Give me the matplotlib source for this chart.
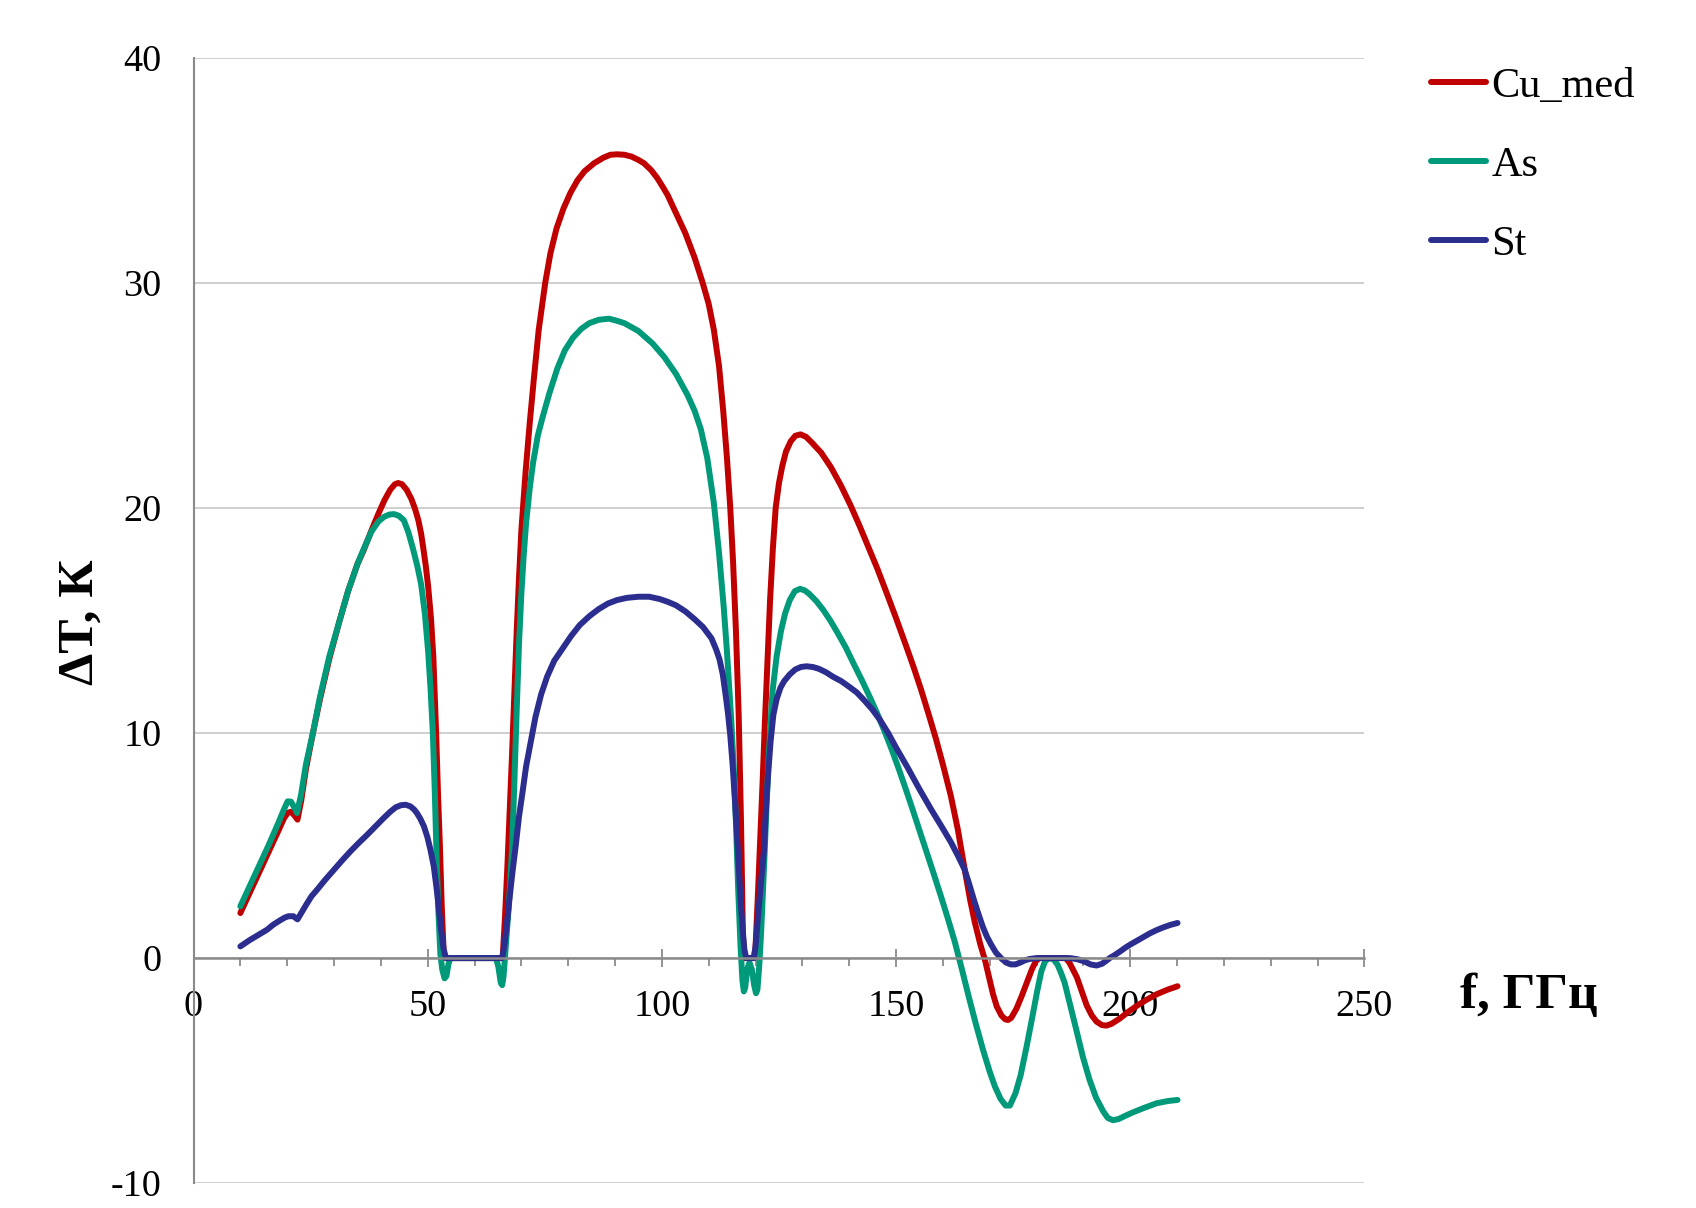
import matplotlib
matplotlib.use("Agg")
import matplotlib.pyplot as plt
from matplotlib.ticker import MultipleLocator

plt.rcParams['font.family'] = ['Liberation Serif', 'DejaVu Serif']
plt.rcParams['axes.unicode_minus'] = False

# Cu_med: (f, dT) pairs
cu_pts = [
    (10, 2.0), (12, 2.9), (14, 3.8), (16, 4.7), (18, 5.6), (19.3, 6.2), (20.1, 6.45),
    (20.8, 6.5), (21.5, 6.35), (22.2, 6.15), (23, 7.0), (24, 8.4), (25.5, 10.0),
    (27, 11.5), (29, 13.3), (31.2, 15.0), (33, 16.3), (35, 17.5), (36.3, 18.1),
    (38, 19.0), (39.5, 19.75), (40.8, 20.35), (42, 20.8), (43, 21.05), (43.7, 21.1),
    (44.5, 21.05), (45.5, 20.8), (46.5, 20.4), (47.3, 19.95), (48, 19.45), (48.6, 18.85),
    (49.1, 18.15), (49.6, 17.4), (50.1, 16.5), (50.7, 15.1), (51.2, 13.4), (51.8, 10.0),
    (52.2, 7.3), (52.6, 5.0), (53.0, 2.3), (53.4, 0.3), (53.8, 0.0), (60, 0.0),
    (66.0, 0.0), (66.5, 1.8), (67.0, 4.0), (67.5, 6.5), (68.0, 9.0), (68.5, 11.8),
    (69.0, 14.5), (69.5, 16.9), (70.0, 19.0), (70.9, 21.6), (71.8, 23.8), (72.7, 25.8),
    (73.7, 27.9), (75.1, 30.0), (76.2, 31.3), (77.5, 32.4), (79, 33.3), (80.5, 34.0),
    (82, 34.55), (83.5, 34.95), (85.5, 35.3), (87.5, 35.55), (89, 35.68), (90.5, 35.7),
    (92, 35.68), (93.5, 35.6), (95, 35.45), (96.2, 35.3), (97.7, 35.0), (99, 34.65),
    (100.2, 34.25), (101.2, 33.9), (103, 33.1), (105, 32.2), (107, 31.1), (108.7, 30.0),
    (110, 29.05), (111.1, 27.9), (112.2, 26.3), (113.1, 24.3), (113.9, 22.2),
    (114.6, 20.0), (115.2, 17.6), (115.8, 14.6), (116.4, 10.8), (116.9, 6.0),
    (117.3, 1.0), (117.6, 0.0), (119.7, 0.0), (120.0, 0.5), (120.5, 2.8), (120.9, 4.8),
    (121.5, 7.8), (122.0, 10.5), (122.6, 13.5), (123.1, 15.9), (123.7, 18.2),
    (124.3, 20.0), (125.0, 21.1), (125.7, 21.85), (126.5, 22.5), (127.5, 22.95),
    (128.5, 23.2), (129.6, 23.26), (130.8, 23.15), (132, 22.9), (134, 22.45),
    (136.1, 21.8), (138.2, 21.0), (140.3, 20.1), (142.2, 19.2), (144, 18.3),
    (146, 17.3), (148.2, 16.1), (150, 15.1), (152, 13.95), (153.7, 12.95), (155.3, 11.95),
    (157, 10.8), (158.5, 9.75), (160, 8.6), (161.7, 7.2), (163.2, 5.7), (164.6, 4.0),
    (165.8, 2.6), (166.8, 1.6), (168, 0.6), (169, -0.1), (169.9, -0.9), (170.7, -1.6),
    (171.5, -2.15), (172.5, -2.55), (173.3, -2.72), (173.9, -2.75), (174.6, -2.65),
    (175.7, -2.25), (176.8, -1.7), (177.9, -1.1), (179, -0.5), (179.8, -0.15),
    (180.5, 0.0), (186.2, 0.0), (187, -0.2), (188.6, -0.85), (189.7, -1.5),
    (190.7, -2.1), (191.8, -2.55), (192.8, -2.82), (193.9, -2.97), (194.9, -3.0),
    (196, -2.92), (197.8, -2.68), (199.5, -2.4), (201.4, -2.12), (203.5, -1.85),
    (205.7, -1.6), (208, -1.4), (210.1, -1.25),
]

# As
as_pts = [
    (10, 2.3), (12, 3.2), (14, 4.1), (16, 5.0), (18, 5.95), (19.3, 6.6), (20.1, 6.96),
    (20.8, 6.95), (21.5, 6.7), (22.1, 6.44), (23, 7.3), (24, 8.6), (25.5, 10.0),
    (27, 11.6), (29, 13.4), (31.2, 15.0), (33, 16.3), (35, 17.5), (36.3, 18.15),
    (38, 18.95), (39.5, 19.4), (40.7, 19.6), (41.8, 19.7), (42.8, 19.72), (43.8, 19.65),
    (44.9, 19.45), (45.9, 18.9), (46.9, 18.15), (47.8, 17.4), (48.6, 16.6), (49.4, 15.3),
    (50.1, 13.6), (50.6, 12.0), (51.1, 10.0), (51.5, 7.5), (51.9, 4.5), (52.3, 2.0),
    (52.7, 0.2), (53.1, -0.5), (53.6, -0.9), (54.0, -0.8), (54.4, -0.3), (54.8, 0.0),
    (60, 0.0), (64.6, 0.0), (65.1, -0.4), (65.6, -1.1), (65.9, -1.2), (66.2, -0.8),
    (66.6, 0.3), (67.2, 2.0), (67.6, 3.3), (68.0, 4.8), (68.5, 7.8), (69.0, 11.0),
    (69.5, 14.0), (70.0, 16.2), (70.5, 17.9), (71.0, 19.3), (71.8, 20.9), (72.5, 22.0),
    (73.5, 23.2), (74.5, 24.0), (76, 25.1), (77.7, 26.2), (79.3, 27.0), (81, 27.55),
    (82.8, 27.95), (84.5, 28.2), (86.5, 28.35), (88.7, 28.4), (90.5, 28.3), (92, 28.2),
    (95, 27.85), (98, 27.3), (100.5, 26.7), (103, 25.95), (105.5, 25.0), (107, 24.3),
    (108.3, 23.5), (109.7, 22.2), (111.1, 20.2), (112.2, 18.0), (113.2, 15.6),
    (113.9, 13.6), (114.8, 10.6), (115.4, 8.2), (115.8, 6.1), (116.3, 3.0), (116.8, 0.5),
    (117.2, -1.0), (117.5, -1.48), (117.8, -1.3), (118.2, -0.5), (118.7, -0.2),
    (119.2, -0.5), (119.7, -1.2), (120.1, -1.56), (120.4, -1.4), (120.8, -0.3),
    (121.2, 1.2), (121.8, 4.0), (122.3, 6.5), (122.7, 8.5), (123.2, 10.4), (123.6, 11.8),
    (124.5, 13.4), (125.4, 14.5), (126.3, 15.3), (127.3, 15.9), (128.4, 16.3),
    (129.5, 16.4), (130.5, 16.33), (131.5, 16.17), (133, 15.85), (134.5, 15.45),
    (136, 14.98), (137.5, 14.45), (139.3, 13.78), (141, 13.05), (142.8, 12.3),
    (144.6, 11.5), (146, 10.85), (147.5, 10.1), (149, 9.3), (150.5, 8.45), (152, 7.55),
    (153.5, 6.62), (155, 5.67), (156.5, 4.72), (158, 3.77), (159.5, 2.8), (161, 1.8),
    (162.5, 0.75), (164, -0.45), (165.5, -1.7), (167, -2.9), (168.6, -4.1), (170, -5.05),
    (171.1, -5.7), (172.3, -6.25), (173.4, -6.55), (174.3, -6.55), (175.5, -6.0),
    (176.6, -5.2), (177.9, -3.9), (179.2, -2.5), (180.1, -1.5), (181, -0.6),
    (181.8, -0.15), (182.6, 0.0), (183.6, -0.05), (184.5, -0.3), (185.3, -0.7),
    (186, -1.1), (187.2, -2.1), (188.5, -3.2), (189.9, -4.4), (191.3, -5.4),
    (192.7, -6.2), (194.2, -6.8), (195.2, -7.1), (196.3, -7.2), (197.5, -7.15),
    (199, -7.0), (200.6, -6.85), (203, -6.65), (205.6, -6.45), (208, -6.35), (210.1, -6.3),
]

# St
st_pts = [
    (10, 0.52), (12, 0.8), (14, 1.05), (15.7, 1.26), (17, 1.48), (18.5, 1.68), (19.5, 1.8),
    (20.3, 1.86), (21.3, 1.86), (22.2, 1.72), (23, 2.0), (24, 2.35), (25.2, 2.75),
    (26.4, 3.04), (28, 3.45), (29.9, 3.9), (31.7, 4.33), (33.5, 4.74), (35.3, 5.12),
    (37.1, 5.48), (38.9, 5.86), (40.6, 6.22), (42, 6.5), (43.2, 6.7), (44.3, 6.79),
    (45.3, 6.81), (46.3, 6.74), (47.1, 6.6), (47.7, 6.44), (48.4, 6.2), (49.2, 5.85),
    (49.9, 5.4), (50.6, 4.8), (51.3, 4.07), (51.9, 3.1), (52.4, 2.15), (52.9, 1.2),
    (53.4, 0.4), (53.9, 0.0), (60, 0.0), (65.9, 0.0), (66.4, 0.6), (67.0, 1.7),
    (67.6, 2.9), (68.2, 4.0), (68.8, 5.0), (69.5, 6.3), (70.2, 7.3), (71, 8.5), (72, 9.6),
    (73, 10.7), (74.2, 11.7), (75.5, 12.5), (77, 13.2), (78.8, 13.75), (80.6, 14.3),
    (82.5, 14.8), (84.6, 15.2), (86.5, 15.5), (88.5, 15.75), (90.4, 15.9), (92.5, 16.0),
    (95, 16.05), (97.3, 16.05), (99.5, 15.95), (101.3, 15.82), (103, 15.67), (105, 15.4),
    (107, 15.05), (108.8, 14.7), (110.6, 14.2), (111.6, 13.7), (112.3, 13.27),
    (113.0, 12.6), (113.6, 11.7), (114.1, 10.9), (114.6, 9.9), (115.1, 8.6), (115.6, 7.0),
    (116.0, 5.6), (116.4, 4.1), (116.8, 2.6), (117.2, 1.4), (117.6, 0.4), (118.0, 0.0),
    (119.6, 0.0), (120.0, 0.5), (120.5, 1.8), (121.0, 3.0), (121.4, 3.9), (121.8, 4.8),
    (122.2, 6.6), (122.7, 8.2), (123.2, 9.6), (123.8, 10.8), (124.5, 11.5), (125.3, 12.0),
    (126.1, 12.3), (127.3, 12.6), (128.5, 12.82), (129.7, 12.93), (130.9, 12.96),
    (132.2, 12.93), (133.5, 12.85), (135, 12.7), (136.5, 12.5), (138.3, 12.3),
    (140, 12.05), (141.6, 11.8), (143.2, 11.45), (144.9, 11.05), (146.5, 10.6),
    (148.3, 10.0), (150, 9.35), (152.5, 8.45), (155, 7.5), (157.5, 6.6), (159.7, 5.85),
    (161.7, 5.15), (163.2, 4.55), (164.6, 3.95), (165.6, 3.3), (166.6, 2.6),
    (167.6, 1.95), (168.5, 1.4), (169.4, 0.95), (170.3, 0.6), (171.3, 0.25), (172.4, 0.0),
    (173.5, -0.2), (174.5, -0.28), (175.5, -0.28), (176.5, -0.2), (177.5, -0.1),
    (178.5, -0.04), (180, 0.0), (187.1, 0.0), (188.7, -0.05), (190.2, -0.15),
    (191.5, -0.28), (192.8, -0.33), (194, -0.25), (195, -0.1), (195.6, 0.0),
    (196.8, 0.15), (198, 0.32), (199, 0.47), (200, 0.6), (201.5, 0.78), (203, 0.96),
    (204.2, 1.1), (205.6, 1.24), (207, 1.36), (208.5, 1.47), (210.1, 1.56),
]

series_names = ['Cu_med', 'As', 'St']
series_colors = ['#C00000', '#00997A', '#2B2E8F']

x_ticks = [0, 50, 100, 150, 200, 250]
y_ticks = [-10, 0, 10, 20, 30, 40]

fig = plt.figure(figsize=(16.96, 12.08), dpi=100)
ax = fig.add_axes([0.1141, 0.0205, 0.6904, 0.9319])

for pts, name, col in zip([cu_pts, as_pts, st_pts], series_names, series_colors):
    xs = [p[0] for p in pts]
    ys = [p[1] for p in pts]
    ax.plot(xs, ys, color=col, lw=4.3, label=name,
            solid_capstyle='round', solid_joinstyle='round')

ax.set_xlim(0, 250)
ax.set_ylim(-10, 40)
ax.set_xticks(x_ticks)
ax.xaxis.set_minor_locator(MultipleLocator(10))
ax.set_yticks(y_ticks)

ax.grid(axis='y', color='#cccccc', lw=1.3)
ax.spines['top'].set_visible(False)
ax.spines['right'].set_visible(False)
ax.spines['left'].set_color('#8a8a8a')
ax.spines['left'].set_linewidth(1.5)
ax.spines['bottom'].set_position(('data', 0))
ax.spines['bottom'].set_color('#8a8a8a')
ax.spines['bottom'].set_linewidth(1.8)

ax.tick_params(axis='x', which='major', direction='inout', length=13, width=1.3,
               color='#8a8a8a', labelsize=27.5, pad=16)
ax.tick_params(axis='x', which='minor', direction='out', length=6, width=1.3, color='#8a8a8a')
ax.tick_params(axis='y', length=0, labelsize=27.5, pad=23)

fig.text(1460 / 1696, 1 - 996 / 1208, 'f, ГГц', fontsize=37, fontweight='bold',
         ha='left', va='center')
fig.text(81 / 1696, 1 - 622 / 1208, 'ΔT, К', fontsize=37, fontweight='bold',
         rotation=90, ha='center', va='center')

ax.legend(loc='upper left', bbox_to_anchor=(1431 / 1696, 1 - 67.5 / 1208),
          bbox_transform=fig.transFigure, frameon=False, fontsize=30.5,
          handlelength=1.3, handletextpad=0.12, labelspacing=0.95,
          borderpad=0, borderaxespad=0)

fig.savefig('out.png', dpi=100)
